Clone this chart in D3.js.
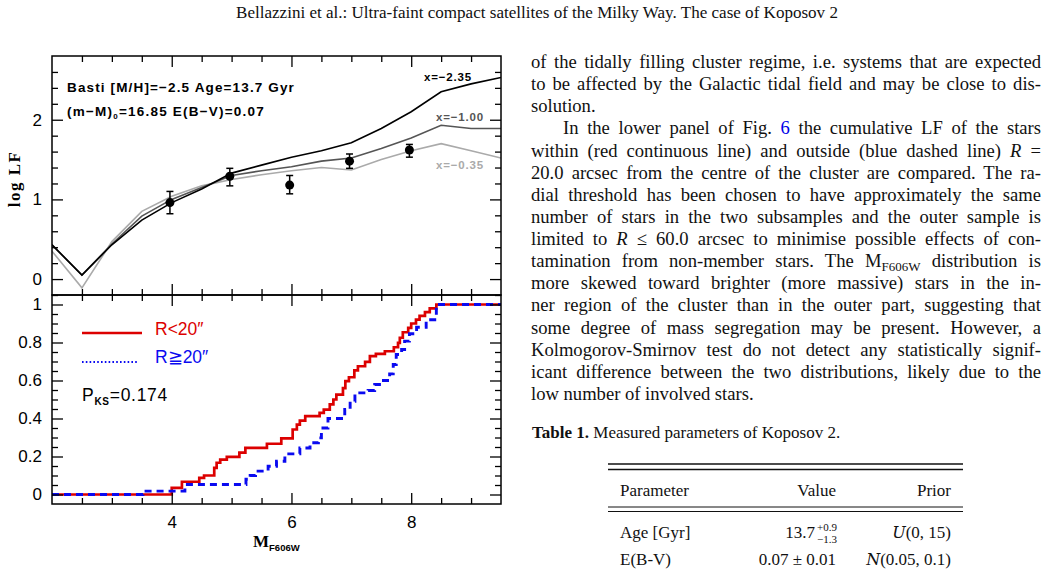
<!DOCTYPE html>
<html>
<head>
<meta charset="utf-8">
<script src="https://cdn.jsdelivr.net/npm/d3@7"></script>
<style>
  body { margin: 0; background: #fff; }
  svg { display: block; }
</style>
</head>
<body>
<svg id="page" width="1049" height="573"></svg>
<script>
// ---- upper panel: model luminosity functions (BaSTI) ----
var magGrid  = [2, 2.5, 3, 3.5, 4, 4.5, 5, 5.5, 6, 6.5, 7, 7.5, 8, 8.5, 9, 9.5];
var lfX235   = [0.43, 0.05, 0.43, 0.74, 0.96, 1.13, 1.33, 1.43, 1.53, 1.61, 1.71, 1.89, 2.10, 2.35, 2.45, 2.53];
var lfX100   = [0.43, 0.05, 0.44, 0.79, 1.00, 1.15, 1.30, 1.36, 1.41, 1.48, 1.52, 1.64, 1.77, 1.93, 1.89, 1.89];
var lfX035   = [0.35, -0.11, 0.47, 0.85, 1.04, 1.17, 1.25, 1.31, 1.36, 1.40, 1.37, 1.50, 1.61, 1.70, 1.61, 1.52];
var modelLabels = ["x=\u22122.35", "x=\u22121.00", "x=\u22120.35"];

// observed LF with errors
var obsMag   = [3.97, 4.97, 5.97, 6.97, 7.97];
var obsLogLF = [0.96, 1.29, 1.18, 1.48, 1.62];
var obsLo    = [0.82, 1.17, 1.07, 1.39, 1.53];
var obsHi    = [1.10, 1.39, 1.30, 1.57, 1.69];

// ---- lower panel: cumulative LF, inner (R<20") and outer (R>=20") ----
var innerMag = [2, 4.00, 4.17, 4.46, 4.54, 4.71, 4.75, 4.81, 4.92, 5.13, 5.23, 5.59, 5.83, 6.02, 6.09, 6.14, 6.23,
                6.47, 6.54, 6.64, 6.70, 6.75, 6.86, 6.90, 6.96, 7.05, 7.11, 7.23, 7.31, 7.41, 7.56, 7.71, 7.78,
                7.81, 7.86, 7.95, 8.00, 8.08, 8.14, 8.23, 8.31, 8.42, 9.5];
var innerCum = [0, 0.035, 0.067, 0.088, 0.10, 0.14, 0.167, 0.184, 0.198, 0.22, 0.245, 0.267, 0.295, 0.342, 0.368, 0.389, 0.412,
                0.43, 0.447, 0.474, 0.50, 0.526, 0.56, 0.597, 0.617, 0.653, 0.675, 0.698, 0.728, 0.74, 0.754, 0.775, 0.798,
                0.825, 0.854, 0.877, 0.90, 0.92, 0.94, 0.96, 0.98, 1.0, 1.0];
var outerMag = [2, 3.52, 4.22, 5.24, 5.31, 5.40, 5.61, 5.75, 5.89, 6.14, 6.31, 6.45, 6.50, 6.61, 6.89, 6.98, 7.06,
                7.28, 7.39, 7.47, 7.64, 7.70, 7.75, 7.84, 7.89, 7.97, 8.09, 8.25, 8.42, 9.5];
var outerCum = [0, 0.018, 0.053, 0.08, 0.10, 0.123, 0.149, 0.175, 0.214, 0.245, 0.272, 0.298, 0.35, 0.40, 0.447, 0.49, 0.535,
                0.547, 0.579, 0.60, 0.635, 0.684, 0.737, 0.763, 0.807, 0.846, 0.88, 0.92, 1.0, 1.0];

var topYMajor = [0, 1, 2];
var botYMajor = [0, 0.2, 0.4, 0.6, 0.8, 1];
var xMajor = [4, 6, 8];

var svg = d3.select("#page");
var plotFont = "'Liberation Sans', Arial, sans-serif";
var serif = "'Liberation Serif', 'Times New Roman', serif";

var x = d3.scaleLinear().domain([2, 9.5]).range([52, 501]);
var yTop = d3.scaleLinear().domain([-0.2, 2.8]).range([295, 56]);
var yBot = d3.scaleLinear().domain([-0.05, 1.05]).range([504, 295]);

function notIn(list) {
  return function(v) { return !list.some(function(m) { return Math.abs(m - v) < 1e-6; }); };
}
var xMinor = d3.range(2.5, 9.5, 0.5).filter(notIn(xMajor));
var topYMinor = d3.range(-0.2, 2.8, 0.2).filter(notIn(topYMajor));
var botYMinor = d3.range(0, 1.04, 0.05).filter(notIn(botYMajor));

// stretch a text to a given width with letter spacing (the original font is wider)
function fitWidth(t, w) {
  var cur = t.node().getComputedTextLength();
  var n = t.text().length;
  t.attr("letter-spacing", (w - cur) / n);
}

function styleAxis(g) {
  g.select(".domain").remove();
  g.selectAll(".tick line").attr("stroke", "#000").attr("stroke-width", 1.3);
  g.selectAll(".tick text").attr("font-family", plotFont).attr("font-size", 17).attr("fill", "#000");
}

function frame(y, yMaj, yMin, yFmt, xLabels) {
  var x0 = x.range()[0], x1 = x.range()[1], yb = y.range()[0], yt = y.range()[1];
  var g = svg.append("g");
  [[yMaj, 11], [yMin, 6]].forEach(function(p, i) {
    g.append("g").attr("transform", "translate(" + x0 + ",0)")
      .call(d3.axisLeft(y).tickValues(p[0]).tickSize(-p[1]).tickPadding(10).tickFormat(i === 0 ? yFmt : ""))
      .call(styleAxis);
    g.append("g").attr("transform", "translate(" + x1 + ",0)")
      .call(d3.axisRight(y).tickValues(p[0]).tickSize(-p[1]).tickFormat(""))
      .call(styleAxis);
  });
  [[xMajor, 11], [xMinor, 6]].forEach(function(p, i) {
    g.append("g").attr("transform", "translate(0," + yt + ")")
      .call(d3.axisTop(x).tickValues(p[0]).tickSize(-p[1]).tickFormat(""))
      .call(styleAxis);
    g.append("g").attr("transform", "translate(0," + yb + ")")
      .call(d3.axisBottom(x).tickValues(p[0]).tickSize(-p[1]).tickPadding(12)
        .tickFormat(i === 0 && xLabels ? d3.format("d") : ""))
      .call(styleAxis);
  });
  g.append("rect").attr("x", x0).attr("y", yt).attr("width", x1 - x0).attr("height", yb - yt)
    .attr("fill", "none").attr("stroke", "#000").attr("stroke-width", 1.5);
}

// clip paths
var defs = svg.append("defs");
defs.append("clipPath").attr("id", "clipTop").append("rect")
  .attr("x", 52).attr("y", 56).attr("width", 449).attr("height", 239);
defs.append("clipPath").attr("id", "clipBot").append("rect")
  .attr("x", 52).attr("y", 295).attr("width", 449).attr("height", 209);

// ---------- upper panel ----------
var lineTop = d3.line().x(function(d) { return x(d[0]); }).y(function(d) { return yTop(d[1]); });
var models = [
  { v: lfX035, color: "#aaaaaa" },
  { v: lfX100, color: "#555555" },
  { v: lfX235, color: "#000000" }
];
var gTop = svg.append("g").attr("clip-path", "url(#clipTop)");
models.forEach(function(m) {
  gTop.append("path").datum(d3.zip(magGrid, m.v)).attr("d", lineTop)
    .attr("fill", "none").attr("stroke", m.color).attr("stroke-width", 1.6);
});

var obs = d3.range(obsMag.length).map(function(i) {
  return { m: obsMag[i], v: obsLogLF[i], lo: obsLo[i], hi: obsHi[i] };
});
var gObs = gTop.selectAll("g.obs").data(obs).enter().append("g").attr("class", "obs");
gObs.append("line").attr("x1", function(d) { return x(d.m); }).attr("x2", function(d) { return x(d.m); })
  .attr("y1", function(d) { return yTop(d.lo); }).attr("y2", function(d) { return yTop(d.hi); })
  .attr("stroke", "#000").attr("stroke-width", 1.5);
["lo", "hi"].forEach(function(k) {
  gObs.append("line").attr("x1", function(d) { return x(d.m) - 3.5; }).attr("x2", function(d) { return x(d.m) + 3.5; })
    .attr("y1", function(d) { return yTop(d[k]); }).attr("y2", function(d) { return yTop(d[k]); })
    .attr("stroke", "#000").attr("stroke-width", 1.5);
});
gObs.append("circle").attr("cx", function(d) { return x(d.m); }).attr("cy", function(d) { return yTop(d.v); })
  .attr("r", 4.5).attr("fill", "#000");

frame(yTop, topYMajor, topYMinor, d3.format("d"), false);

// model labels
var labelPos = [[472, 81, "#000"], [484, 121, "#555555"], [484, 169, "#aaaaaa"]];
modelLabels.forEach(function(t, i) {
  var lb = svg.append("text").attr("x", labelPos[i][0]).attr("y", labelPos[i][1]).attr("text-anchor", "end")
    .attr("font-family", plotFont).attr("font-weight", "bold").attr("font-size", 11.5)
    .attr("fill", labelPos[i][2]).text(t);
  fitWidth(lb, 48);
});

var t1 = svg.append("text").attr("x", 67).attr("y", 92).attr("font-family", plotFont)
  .attr("font-weight", "bold").attr("font-size", 13.5).attr("fill", "#000")
  .text("Basti [M/H]=\u22122.5 Age=13.7 Gyr");
fitWidth(t1, 228);
var t2 = svg.append("text").attr("x", 67).attr("y", 116).attr("font-family", plotFont)
  .attr("font-weight", "bold").attr("font-size", 13.5).attr("fill", "#000");
t2.append("tspan").text("(m\u2212M)");
t2.append("tspan").attr("font-size", 8).attr("dy", 3).text("0");
t2.append("tspan").attr("dy", -3).text("=16.85 E(B\u2212V)=0.07");
fitWidth(t2, 198);

svg.append("text").attr("transform", "translate(20,179) rotate(-90)").attr("text-anchor", "middle")
  .attr("font-family", serif).attr("font-weight", "bold").attr("font-size", 17).attr("fill", "#000")
  .attr("letter-spacing", 1.5).text("log LF");

// ---------- lower panel ----------
var lineBot = d3.line().curve(d3.curveStepAfter)
  .x(function(d) { return x(d[0]); }).y(function(d) { return yBot(d[1]); });
var gBot = svg.append("g").attr("clip-path", "url(#clipBot)");
gBot.append("path").datum(d3.zip(innerMag, innerCum)).attr("d", lineBot)
  .attr("fill", "none").attr("stroke", "#dc0000").attr("stroke-width", 2.7);
gBot.append("path").datum(d3.zip(outerMag, outerCum)).attr("d", lineBot)
  .attr("fill", "none").attr("stroke", "#0a0af0").attr("stroke-width", 2.9).attr("stroke-dasharray", "7,5");

frame(yBot, botYMajor, botYMinor, d3.format("~g"), true);

// legend
svg.append("line").attr("x1", 82).attr("x2", 142).attr("y1", 333).attr("y2", 333)
  .attr("stroke", "#dc0000").attr("stroke-width", 2.7);
svg.append("line").attr("x1", 82).attr("x2", 139).attr("y1", 362).attr("y2", 362)
  .attr("stroke", "#0a0af0").attr("stroke-width", 2.2).attr("stroke-dasharray", "1.6,2.2");
svg.append("text").attr("x", 155).attr("y", 334.5).attr("font-family", plotFont).attr("font-size", 17.5)
  .attr("fill", "#dc0000").text("R<20\u2033");
svg.append("text").attr("x", 155).attr("y", 363).attr("font-family", plotFont).attr("font-size", 17.5)
  .attr("fill", "#0a0af0").text("R\u226720\u2033");
var pks = svg.append("text").attr("x", 82).attr("y", 401).attr("font-family", plotFont).attr("font-size", 17.5)
  .attr("fill", "#000");
pks.append("tspan").text("P");
pks.append("tspan").attr("font-size", 10).attr("font-weight", "bold").attr("dy", 4).text("KS");
pks.append("tspan").attr("dy", -4).text("=0.174");
fitWidth(pks, 86);

var xl = svg.append("text").attr("x", 253).attr("y", 547).attr("font-family", serif).attr("font-size", 17)
  .attr("font-weight", "bold").attr("fill", "#000");
xl.append("tspan").text("M");
xl.append("tspan").attr("font-family", plotFont).attr("font-size", 9.5).attr("dy", 3.5).text("F606W");

// ---------- page text ----------
var hdr = svg.append("text").attr("x", 537).attr("y", 18).attr("text-anchor", "middle")
  .attr("font-family", serif).attr("font-size", 16).attr("fill", "#111")
  .text("Bellazzini et al.: Ultra-faint compact satellites of the Milky Way. The case of Koposov 2");
var hw = hdr.node().getComputedTextLength();
hdr.attr("font-size", 16 * 602 / hw);

var bodyLines = [
  [0, 1, [["of the tidally filling cluster regime, i.e. systems that are expected"]]],
  [0, 1, [["to be affected by the Galactic tidal field and may be close to dis-"]]],
  [0, 0, [["solution."]]],
  [32, 1, [["In the lower panel of Fig. "], ["6", "link"], [" the cumulative LF of the stars"]]],
  [0, 1, [["within (red continuous line) and outside (blue dashed line) "], ["R", "it"], [" ="]]],
  [0, 1, [["20.0 arcsec from the centre of the cluster are compared. The ra-"]]],
  [0, 1, [["dial threshold has been chosen to have approximately the same"]]],
  [0, 1, [["number of stars in the two subsamples and the outer sample is"]]],
  [0, 1, [["limited to "], ["R", "it"], [" \u2264 60.0 arcsec to minimise possible effects of con-"]]],
  [0, 1, [["tamination from non-member stars. The M"], ["F606W", "sub"], [" distribution is"]]],
  [0, 1, [["more skewed toward brighter (more massive) stars in the in-"]]],
  [0, 1, [["ner region of the cluster than in the outer part, suggesting that"]]],
  [0, 1, [["some degree of mass segregation may be present. However, a"]]],
  [0, 1, [["Kolmogorov-Smirnov test do not detect any statistically signif-"]]],
  [0, 1, [["icant difference between the two distributions, likely due to the"]]],
  [0, 0, [["low number of involved stars."]]]
];
var colL = 531, colR = 1041;
bodyLines.forEach(function(ln, i) {
  var t = svg.append("text").attr("x", colL + ln[0]).attr("y", 68 + i * 22.13)
    .attr("font-family", serif).attr("font-size", 18.6).attr("fill", "#111");
  var afterSub = false, full = "";
  ln[2].forEach(function(s) {
    var sp = t.append("tspan").text(s[0]);
    full += s[0];
    if (afterSub) { sp.attr("dy", -4); afterSub = false; }
    if (s[1] === "it") sp.attr("font-style", "italic");
    if (s[1] === "link") sp.attr("fill", "#0000e8");
    if (s[1] === "sub") { sp.attr("font-size", 13).attr("dy", 4); afterSub = true; }
  });
  if (ln[1]) {
    var w = t.node().getComputedTextLength();
    var n = (full.match(/ /g) || []).length;
    t.attr("word-spacing", ((colR - colL - ln[0]) - w) / n);
  }
});

// table
var cap = svg.append("text").attr("x", 532).attr("y", 438).attr("font-family", serif).attr("font-size", 17)
  .attr("fill", "#111");
cap.append("tspan").attr("font-weight", "bold").text("Table 1.");
cap.append("tspan").text(" Measured parameters of Koposov 2.");

[[464, 1.4], [469.5, 1.4], [507, 1], [511.5, 1]].forEach(function(r) {
  svg.append("line").attr("x1", 608).attr("x2", 963).attr("y1", r[0]).attr("y2", r[0])
    .attr("stroke", "#111").attr("stroke-width", r[1]);
});

var colHead = ["Parameter", "Value", "Prior"];
var rowNames = ["Age [Gyr]", "E(B-V)"];
var rowPriors = [["U", "(0, 15)"], ["N", "(0.05, 0.1)"]];
function cell(xp, yp, anchor, txt) {
  return svg.append("text").attr("x", xp).attr("y", yp).attr("text-anchor", anchor)
    .attr("font-family", serif).attr("font-size", 17).attr("fill", "#111").text(txt);
}
cell(620, 496, "start", colHead[0]);
cell(836, 496, "end", colHead[1]);
cell(951, 496, "end", colHead[2]);
cell(620, 538, "start", rowNames[0]);
cell(620, 565, "start", rowNames[1]);
cell(815, 538, "end", "13.7");
svg.append("text").attr("x", 817).attr("y", 531).attr("font-family", serif).attr("font-size", 11)
  .attr("fill", "#111").text("+0.9");
svg.append("text").attr("x", 817).attr("y", 543).attr("font-family", serif).attr("font-size", 11)
  .attr("fill", "#111").text("\u22121.3");
cell(836, 565, "end", "0.07 \u00b1 0.01");
rowPriors.forEach(function(p, i) {
  var t = cell(951, 538 + i * 27, "end", "");
  t.append("tspan").attr("font-style", "italic").attr("font-family", "'DejaVu Serif', serif")
    .attr("font-size", 16).text(p[0]);
  t.append("tspan").text(p[1]);
});
</script>
</body>
</html>
